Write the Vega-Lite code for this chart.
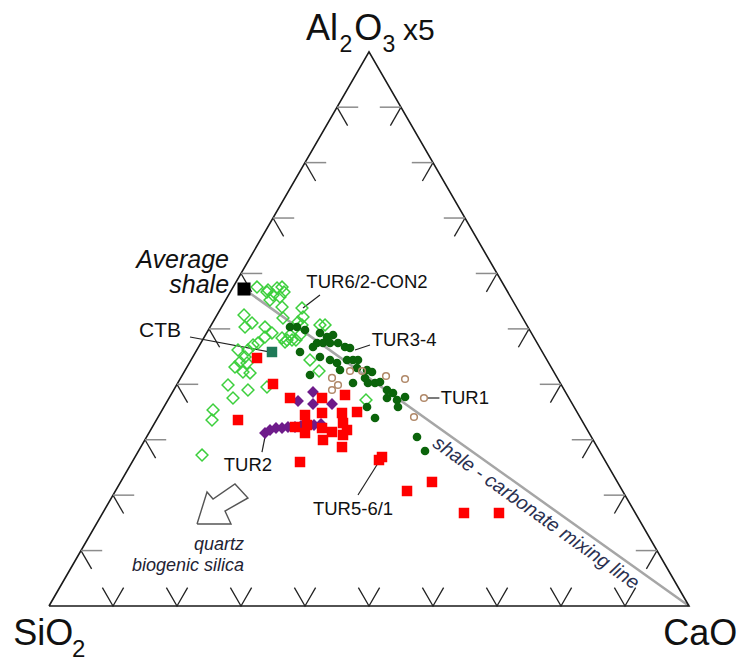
{
 "$schema": "https://vega.github.io/schema/vega-lite/v6.json",
 "width": 742, "height": 663, "padding": 0, "autosize": {"type": "none"},
 "background": "white",
 "config": {"view": {"stroke": null}, "text": {"font": "Liberation Sans", "color": "#111"}},
 "datasets": {
  "frame": [{"x":0,"y":0,"o":0},{"x":100,"y":0,"o":1},{"x":50,"y":86.6,"o":2},{"x":0,"y":0,"o":3}],
  "mix": [{"x":30.47,"y":49.53,"x2":100,"y2":0}],
  "ticks": [
   {"side":"bottom","x":10,"y":0},{"side":"bottom","x":20,"y":0},{"side":"bottom","x":30,"y":0},{"side":"bottom","x":40,"y":0},{"side":"bottom","x":50,"y":0},{"side":"bottom","x":60,"y":0},{"side":"bottom","x":70,"y":0},{"side":"bottom","x":80,"y":0},{"side":"bottom","x":90,"y":0},
   {"side":"left","x":5,"y":8.66},{"side":"left","x":10,"y":17.32},{"side":"left","x":15,"y":25.98},{"side":"left","x":20,"y":34.64},{"side":"left","x":25,"y":43.3},{"side":"left","x":30,"y":51.96},{"side":"left","x":35,"y":60.62},{"side":"left","x":40,"y":69.28},{"side":"left","x":45,"y":77.94},
   {"side":"right","x":95,"y":8.66},{"side":"right","x":90,"y":17.32},{"side":"right","x":85,"y":25.98},{"side":"right","x":80,"y":34.64},{"side":"right","x":75,"y":43.3},{"side":"right","x":70,"y":51.96},{"side":"right","x":65,"y":60.62},{"side":"right","x":60,"y":69.28},{"side":"right","x":55,"y":77.94}
  ],
  "pts": [
   {"g":"gd","x":34.22,"y":49.38},{"g":"gd","x":35.63,"y":49.69},{"g":"gd","x":36.41,"y":49.84},{"g":"gd","x":32.5,"y":49.84},{"g":"gd","x":34.06,"y":49.06},{"g":"gd","x":36.72,"y":49.06},{"g":"gd","x":35.0,"y":48.59},{"g":"gd","x":34.53,"y":47.81},{"g":"gd","x":36.09,"y":48.28},{"g":"gd","x":36.41,"y":46.72},{"g":"gd","x":36.56,"y":45.0},{"g":"gd","x":30.47,"y":45.47},{"g":"gd","x":31.72,"y":44.22},{"g":"gd","x":30.63,"y":43.59},{"g":"gd","x":33.75,"y":43.59},{"g":"gd","x":34.84,"y":42.66},{"g":"gd","x":33.75,"y":42.03},{"g":"gd","x":36.41,"y":41.88},{"g":"gd","x":37.97,"y":41.56},{"g":"gd","x":39.22,"y":42.34},{"g":"gd","x":39.53,"y":43.91},{"g":"gd","x":39.69,"y":45.16},{"g":"gd","x":39.53,"y":46.56},{"g":"gd","x":38.91,"y":44.38},{"g":"gd","x":42.34,"y":43.91},{"g":"gd","x":43.13,"y":43.91},{"g":"gd","x":37.19,"y":41.56},{"g":"gd","x":38.59,"y":41.56},{"g":"gd","x":37.66,"y":42.34},{"g":"gd","x":36.88,"y":41.25},{"g":"gd","x":32.66,"y":41.09},{"g":"gd","x":31.88,"y":40.78},{"g":"gd","x":31.09,"y":40.0},{"g":"gd","x":29.53,"y":40.0},{"g":"gd","x":30.63,"y":38.91},{"g":"gd","x":29.84,"y":38.13},{"g":"gd","x":30.94,"y":37.97},{"g":"gd","x":29.06,"y":37.34},{"g":"gd","x":30.31,"y":36.56},{"g":"gd","x":31.41,"y":36.41},{"g":"gd","x":31.09,"y":33.75},{"g":"gd","x":27.97,"y":34.53},{"g":"gd","x":28.75,"y":32.5},{"g":"gd","x":25.63,"y":30.63},{"g":"gd","x":25.47,"y":29.06},{"g":"gd","x":23.91,"y":23.59},{"g":"gd","x":34.06,"y":34.22},{"g":"gd","x":40.78,"y":38.44},{"g":"gd","x":42.19,"y":36.72},{"g":"gd","x":49.53,"y":32.19},
   {"g":"dg","x":37.66,"y":43.59},{"g":"dg","x":38.75,"y":43.59},{"g":"dg","x":40.0,"y":43.13},{"g":"dg","x":39.22,"y":39.69},{"g":"dg","x":40.78,"y":36.09},{"g":"dg","x":41.25,"y":40.47},{"g":"dg","x":42.34,"y":42.66},{"g":"dg","x":43.44,"y":42.03},{"g":"dg","x":44.38,"y":42.34},{"g":"dg","x":41.88,"y":41.09},{"g":"dg","x":42.81,"y":41.09},{"g":"dg","x":43.91,"y":41.09},{"g":"dg","x":45.16,"y":41.09},{"g":"dg","x":46.25,"y":40.47},{"g":"dg","x":47.03,"y":40.31},{"g":"dg","x":42.34,"y":38.91},{"g":"dg","x":43.91,"y":38.44},{"g":"dg","x":45.0,"y":37.97},{"g":"dg","x":46.56,"y":38.44},{"g":"dg","x":47.5,"y":38.44},{"g":"dg","x":48.28,"y":38.44},{"g":"dg","x":45.47,"y":36.88},{"g":"dg","x":48.13,"y":37.19},{"g":"dg","x":49.69,"y":36.88},{"g":"dg","x":50.47,"y":36.56},{"g":"dg","x":47.5,"y":34.84},{"g":"dg","x":49.38,"y":35.63},{"g":"dg","x":49.84,"y":34.84},{"g":"dg","x":50.94,"y":34.84},{"g":"dg","x":51.72,"y":35.0},{"g":"dg","x":52.81,"y":33.75},{"g":"dg","x":53.75,"y":33.28},{"g":"dg","x":52.81,"y":32.5},{"g":"dg","x":54.38,"y":32.19},{"g":"dg","x":54.53,"y":31.09},{"g":"dg","x":55.63,"y":32.66},{"g":"dg","x":49.69,"y":31.09},{"g":"dg","x":50.94,"y":29.38},{"g":"dg","x":57.5,"y":26.41},{"g":"dg","x":58.75,"y":24.22},
   {"g":"br","x":47.03,"y":36.72},{"g":"br","x":48.91,"y":36.72},{"g":"br","x":52.66,"y":35.94},{"g":"br","x":55.63,"y":35.47},{"g":"br","x":44.22,"y":35.63},{"g":"br","x":45.16,"y":34.53},{"g":"br","x":44.22,"y":33.75},{"g":"br","x":58.59,"y":32.5},{"g":"br","x":57.03,"y":29.53},
   {"g":"pu","x":33.75,"y":27.03},{"g":"pu","x":34.53,"y":27.5},{"g":"pu","x":35.47,"y":27.81},{"g":"pu","x":36.41,"y":27.81},{"g":"pu","x":37.34,"y":27.97},{"g":"pu","x":38.44,"y":27.97},{"g":"pu","x":39.38,"y":28.13},{"g":"pu","x":40.31,"y":28.13},{"g":"pu","x":41.41,"y":28.28},{"g":"pu","x":42.5,"y":28.44},{"g":"pu","x":38.91,"y":32.03},{"g":"pu","x":41.25,"y":33.44},{"g":"pu","x":41.25,"y":31.56},{"g":"pu","x":44.22,"y":31.56},
   {"g":"rd","x":32.5,"y":38.75},{"g":"rd","x":35.0,"y":34.69},{"g":"rd","x":37.66,"y":32.5},{"g":"rd","x":42.66,"y":32.5},{"g":"rd","x":46.25,"y":32.97},{"g":"rd","x":48.13,"y":30.31},{"g":"rd","x":45.78,"y":30.16},{"g":"rd","x":42.66,"y":30.16},{"g":"rd","x":40.0,"y":29.84},{"g":"rd","x":45.94,"y":28.59},{"g":"rd","x":46.56,"y":27.5},{"g":"rd","x":44.22,"y":27.19},{"g":"rd","x":42.66,"y":27.81},{"g":"rd","x":40.31,"y":28.28},{"g":"rd","x":38.44,"y":27.97},{"g":"rd","x":40.0,"y":27.03},{"g":"rd","x":42.81,"y":25.94},{"g":"rd","x":45.94,"y":26.72},{"g":"rd","x":45.78,"y":24.84},{"g":"rd","x":39.22,"y":22.5},{"g":"rd","x":52.03,"y":23.28},{"g":"rd","x":51.56,"y":22.81},{"g":"rd","x":29.53,"y":29.06},{"g":"rd","x":55.94,"y":17.97},{"g":"rd","x":59.84,"y":19.38},{"g":"rd","x":64.84,"y":14.53},{"g":"rd","x":70.31,"y":14.53},
   {"g":"sh","x":30.47,"y":49.53},
   {"g":"ctb","x":34.84,"y":39.69}
  ],
  "leaders": [
   {"x":22.03,"y":42.03,"x2":34.2,"y2":39.75},
   {"x":42.34,"y":48.59,"x2":39.69,"y2":46.56},
   {"x":50.16,"y":40.78,"x2":47.81,"y2":40.0},
   {"x":59.2,"y":32.5,"x2":61.0,"y2":32.5},
   {"x":33.28,"y":24.06,"x2":33.75,"y2":26.41},
   {"x":48.28,"y":17.34,"x2":51.72,"y2":22.81}
  ],
  "arrow": [
   {"o":0,"x":23.13,"y":12.81},{"o":1,"x":24.69,"y":17.81},{"o":2,"x":25.63,"y":16.72},{"o":3,"x":29.06,"y":19.06},{"o":4,"x":31.09,"y":16.88},{"o":5,"x":27.5,"y":14.84},{"o":6,"x":28.44,"y":12.81},{"o":7,"x":23.13,"y":12.81}
  ]
 },
 "encoding": {
  "x": {"field": "x", "type": "quantitative", "scale": {"domain": [-7.656, 108.281], "nice": false, "zero": false}, "axis": null},
  "y": {"field": "y", "type": "quantitative", "scale": {"domain": [-8.906, 94.688], "nice": false, "zero": false}, "axis": null}
 },
 "resolve": {"scale": {"shape": "independent"}},
 "layer": [
  {"data": {"name": "mix"}, "mark": {"type": "rule", "color": "#a6a6a6", "strokeWidth": 2.5}, "encoding": {"x2": {"field": "x2"}, "y2": {"field": "y2"}}},
  {"data": {"name": "frame"}, "mark": {"type": "line", "color": "#1a1a1a", "strokeWidth": 1.6, "strokeJoin": "miter"}, "encoding": {"order": {"field": "o"}}},
  {"data": {"name": "ticks"}, "mark": {"type": "point", "filled": false, "size": 1800, "strokeWidth": 1.3, "color": "#222", "opacity": 1},
   "encoding": {"shape": {"field": "side", "type": "nominal", "legend": null, "scale": {"domain": ["bottom", "left", "right"], "range": ["M-0.5,-0.866L0,0L0.5,-0.866", "M0,0L0.5,0.866", "M0,0L-0.5,0.866"]}}}},
  {"data": {"name": "ticks"}, "transform": [{"filter": "datum.side != 'bottom'"}], "mark": {"type": "point", "filled": false, "size": 1800, "strokeWidth": 1.5, "color": "#8c8c8c", "opacity": 1},
   "encoding": {"shape": {"field": "side", "type": "nominal", "legend": null, "scale": {"domain": ["left", "right"], "range": ["M0,0L1,0", "M0,0L-1,0"]}}}},
  {"data": {"name": "leaders"}, "mark": {"type": "rule", "color": "#222", "strokeWidth": 1.2}, "encoding": {"x2": {"field": "x2"}, "y2": {"field": "y2"}}},
  {"data": {"name": "arrow"}, "mark": {"type": "line", "color": "#555", "strokeWidth": 1.4, "strokeJoin": "miter"}, "encoding": {"order": {"field": "o"}}},
  {"data": {"name": "pts"}, "transform": [{"filter": "datum.g == 'gd'"}], "mark": {"type": "point", "shape": "diamond", "filled": false, "size": 140, "strokeWidth": 1.5, "color": "#3ccf3c", "opacity": 1}},
  {"data": {"name": "pts"}, "transform": [{"filter": "datum.g == 'dg'"}], "mark": {"type": "point", "shape": "circle", "filled": true, "size": 75, "color": "#0b640b", "opacity": 1}},
  {"data": {"name": "pts"}, "transform": [{"filter": "datum.g == 'br'"}], "mark": {"type": "point", "shape": "circle", "filled": false, "size": 45, "strokeWidth": 1.5, "color": "#b08868", "opacity": 1}},
  {"data": {"name": "pts"}, "transform": [{"filter": "datum.g == 'pu'"}], "mark": {"type": "point", "shape": "diamond", "filled": true, "size": 140, "color": "#6e1b8a", "opacity": 1}},
  {"data": {"name": "pts"}, "transform": [{"filter": "datum.g == 'rd'"}], "mark": {"type": "point", "shape": "square", "filled": true, "size": 110, "color": "#ff0000", "opacity": 1}},
  {"data": {"name": "pts"}, "transform": [{"filter": "datum.g == 'sh'"}], "mark": {"type": "point", "shape": "square", "filled": true, "size": 170, "color": "#000000", "opacity": 1}},
  {"data": {"name": "pts"}, "transform": [{"filter": "datum.g == 'ctb'"}], "mark": {"type": "point", "shape": "square", "filled": true, "size": 110, "color": "#1f7a58", "opacity": 1}},
  {"data": {"values": [{"x": 40.16, "y": 88.44, "t": "Al"}, {"x": 47.7, "y": 88.44, "t": "O"}]}, "mark": {"type": "text", "fontSize": 36, "align": "left", "baseline": "alphabetic"}, "encoding": {"text": {"field": "t"}}},
  {"data": {"values": [{"x": 45.4, "y": 86.56, "t": "2"}, {"x": 52.1, "y": 86.56, "t": "3"}]}, "mark": {"type": "text", "fontSize": 23, "align": "left", "baseline": "alphabetic"}, "encoding": {"text": {"field": "t"}}},
  {"data": {"values": [{"x": 55.3, "y": 88.44, "t": "x5"}]}, "mark": {"type": "text", "fontSize": 30, "align": "left", "baseline": "alphabetic"}, "encoding": {"text": {"field": "t"}}},
  {"data": {"values": [{"x": -5.6, "y": -6.09, "t": "SiO"}, {"x": 95.98, "y": -6.09, "t": "CaO"}]}, "mark": {"type": "text", "fontSize": 36, "align": "left", "baseline": "alphabetic"}, "encoding": {"text": {"field": "t"}}},
  {"data": {"values": [{"x": 3.6, "y": -8.0, "t": "2"}]}, "mark": {"type": "text", "fontSize": 24, "align": "left", "baseline": "alphabetic"}, "encoding": {"text": {"field": "t"}}},
  {"data": {"values": [{"x": 28.13, "y": 54.06, "t": "Average"}, {"x": 28.13, "y": 50.1, "t": "shale"}]}, "mark": {"type": "text", "fontSize": 25, "fontStyle": "italic", "align": "right", "baseline": "middle"}, "encoding": {"text": {"field": "t"}}},
  {"data": {"values": [{"x": 17.34, "y": 42.97, "t": "CTB"}]}, "mark": {"type": "text", "fontSize": 21, "align": "center", "baseline": "middle"}, "encoding": {"text": {"field": "t"}}},
  {"data": {"values": [{"x": 49.69, "y": 50.63, "t": "TUR6/2-CON2"}, {"x": 31.09, "y": 22.03, "t": "TUR2"}, {"x": 47.5, "y": 15.16, "t": "TUR5-6/1"}]}, "mark": {"type": "text", "fontSize": 18.5, "align": "center", "baseline": "middle"}, "encoding": {"text": {"field": "t"}}},
  {"data": {"values": [{"x": 50.42, "y": 41.56, "t": "TUR3-4"}, {"x": 61.2, "y": 32.5, "t": "TUR1"}]}, "mark": {"type": "text", "fontSize": 18.5, "align": "left", "baseline": "middle"}, "encoding": {"text": {"field": "t"}}},
  {"data": {"values": [{"x": 30.47, "y": 9.53, "t": "quartz"}, {"x": 30.47, "y": 6.25, "t": "biogenic silica"}]}, "mark": {"type": "text", "fontSize": 18, "fontStyle": "italic", "align": "right", "baseline": "middle", "color": "#222233"}, "encoding": {"text": {"field": "t"}}},
  {"data": {"values": [{"x": 76.09, "y": 14.53, "t": "shale - carbonate mixing line"}]}, "mark": {"type": "text", "fontSize": 19.5, "fontStyle": "italic", "align": "center", "baseline": "middle", "angle": 35.5, "color": "#2a3050"}, "encoding": {"text": {"field": "t"}}}
 ]
}
